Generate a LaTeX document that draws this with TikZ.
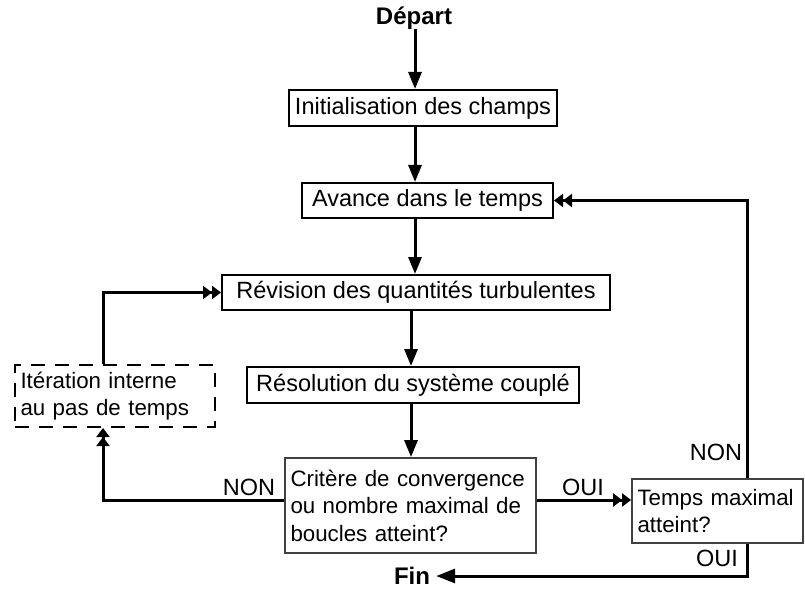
\documentclass[tikz,border=0pt]{standalone}
\usepackage{fontspec}
\setmainfont{Liberation Sans}
\usetikzlibrary{arrows.meta,calc}
\begin{document}
\begin{tikzpicture}[x=1pt,y=-1pt,
  every node/.style={font=\fontsize{23.5}{28}\selectfont},
  small/.style={font=\fontsize{22.3}{27.5}\selectfont},
  box/.style={draw, line width=2pt, inner sep=0pt, align=center},
  qbox/.style={draw=black!75, line width=1.8pt, inner ysep=0pt, inner xsep=5.5pt, small, align=left},
  dbox/.style={draw, line width=2pt, dash pattern=on 14pt off 10pt, inner ysep=0pt, inner xsep=5.5pt, small, align=left},
  lbl/.style={inner sep=0pt},
  arr/.style={line width=3pt, -{Triangle[length=17pt,width=13pt]}},
  dbl/.style={line width=3pt, -{Triangle[length=9pt,width=13pt]Triangle[length=9pt,width=13pt]}},
  finarr/.style={line width=3pt, -{Triangle[length=19pt,width=14pt]}}
]
\useasboundingbox (0,0) rectangle (805,596);
\fill[white] (0,0) rectangle (805,596);

\node[lbl, font=\fontsize{24}{28}\selectfont\bfseries] (depart) at (414,18) {Départ};
\node[box, minimum width=268pt, minimum height=36pt] (init) at (423,108) {Initialisation des champs};
\node[box, minimum width=251pt, minimum height=35pt] (avance) at (427.5,200.5) {Avance dans le temps};
\node[box, minimum width=388pt, minimum height=35pt] (revision) at (416,292.5) {Révision des quantités turbulentes};
\node[box, minimum width=332pt, minimum height=36pt] (resolution) at (413,385) {Résolution du système couplé};
\node[dbox, minimum height=62pt, text width=189pt] (iteration) at (115,396) {Itération interne\\au pas de temps};
\node[qbox, minimum height=95pt, text width=240pt] (critere) at (410.5,505.5) {Critère de convergence\\ou nombre maximal de\\boucles atteint?};
\node[qbox, minimum height=64pt, text width=160pt] (temps) at (717.5,511) {Temps maximal\\atteint?};
\node[lbl, font=\fontsize{24}{28}\selectfont\bfseries] (fin) at (412,576) {Fin};

\node[lbl] (non1) at (249,487) {NON};
\node[lbl] (oui1) at (583,487) {OUI};
\node[lbl] (non2) at (716,452) {NON};
\node[lbl] (oui2) at (717,558) {OUI};

\coordinate (ca) at (415,0);
\coordinate (cb) at (411,0);
\coordinate (r1) at (747,200.5);
\coordinate (r2) at (747,576);
\coordinate (l1) at (103,292.5);
\coordinate (l2) at (103,500);

\draw[arr] (depart.south -| ca) -- (init.north -| ca);
\draw[arr] (init.south -| ca) -- (avance.north -| ca);
\draw[arr] (avance.south -| ca) -- (revision.north -| ca);
\draw[arr] (revision.south -| cb) -- (resolution.north -| cb);
\draw[arr] (resolution.south -| cb) -- (critere.north -| cb);

\draw[dbl] (temps.north -| r1) -- (r1) -- (avance.east);
\draw[finarr] (temps.south -| r1) -- (r2) -- ([xshift=6pt]fin.east);
\draw[dbl] (iteration.north -| l1) -- (l1) -- (revision.west);
\draw[dbl] (critere.west |- l2) -- (l2) -- (iteration.south -| l2);
\draw[dbl] (critere.east |- l2) -- (temps.west |- l2);
\end{tikzpicture}
\end{document}
